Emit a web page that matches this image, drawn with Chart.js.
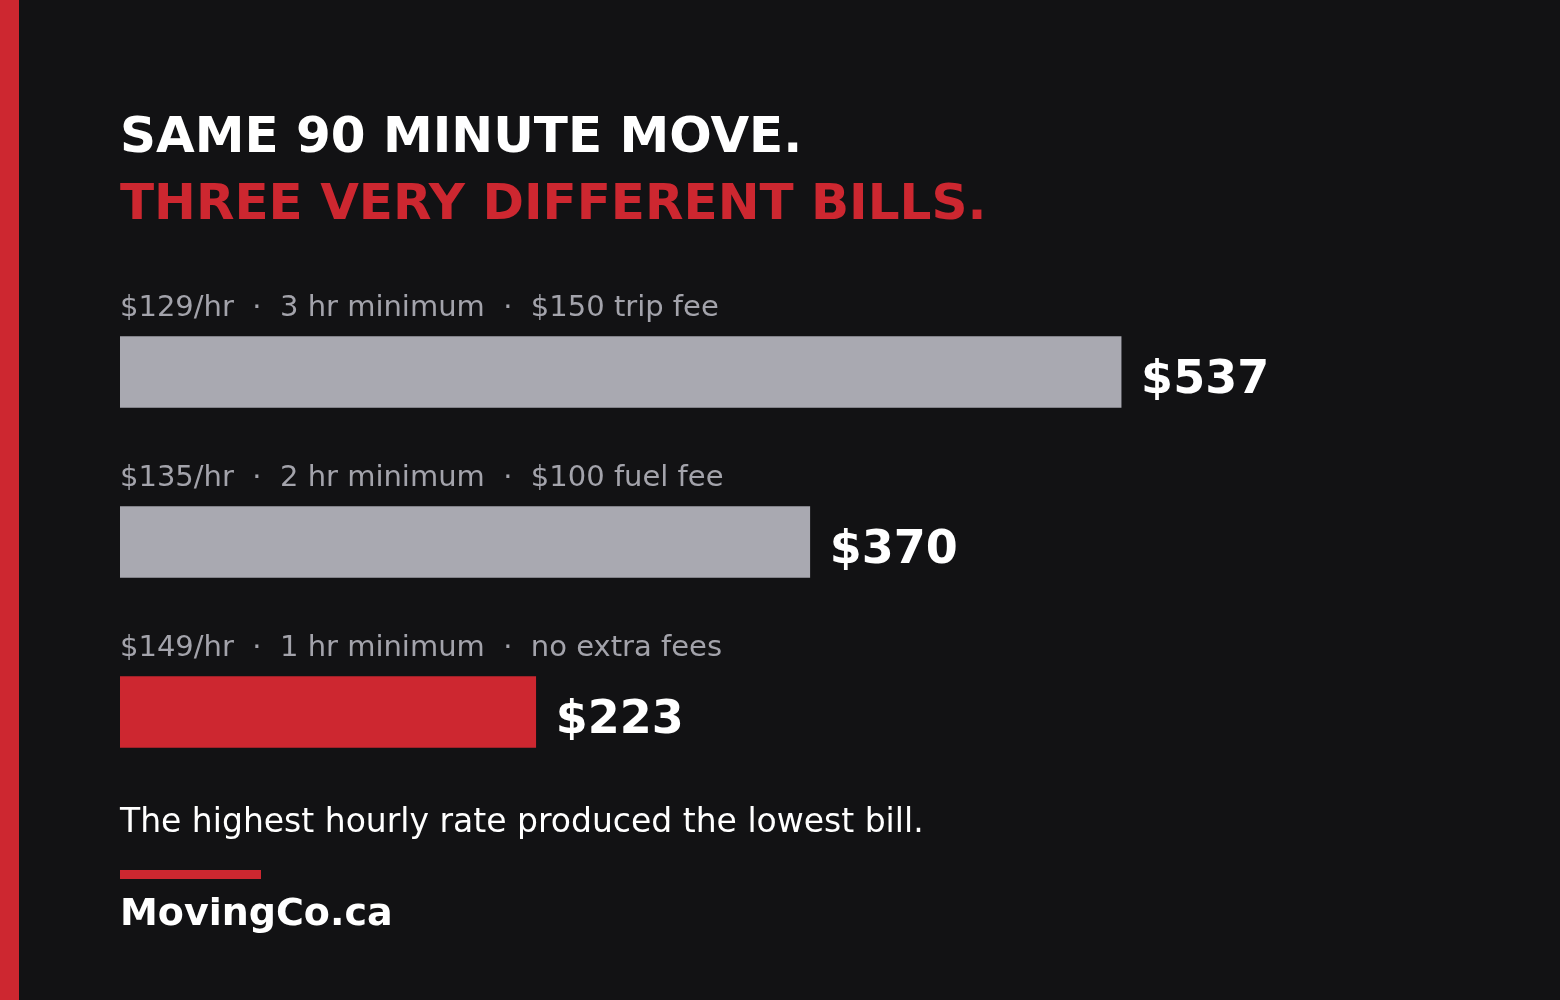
<!DOCTYPE html>
<html>
<head>
<meta charset="utf-8">
<script src="https://cdn.jsdelivr.net/npm/chart.js@4.4.1/dist/chart.umd.min.js"></script>
<style>
  html, body { margin:0; padding:0; background:#121214; width:1560px; height:1000px; overflow:hidden; }
  body { position:relative; font-family:"DejaVu Sans", sans-serif; }
  #stripe { position:absolute; left:0; top:0; width:19px; height:1000px; background:#cd2730; }
  #c { position:absolute; left:0; top:0; }
  .t { position:absolute; left:120px; line-height:1; white-space:nowrap; margin:0; }
  #t1 { top:110px; font-size:50px; font-weight:bold; color:#ffffff; }
  #t2 { top:176.5px; font-size:50px; font-weight:bold; color:#cd2730; }
  #note { top:803.5px; font-size:33px; color:#ffffff; }
  #rule { position:absolute; left:120px; top:870px; width:141px; height:9px; background:#cd2730; }
  #brand { top:893px; font-size:38px; font-weight:bold; color:#ffffff; }
</style>
</head>
<body>
<div id="stripe"></div>
<canvas id="c" width="1560" height="1000"></canvas>
<div class="t" id="t1">SAME 90 MINUTE MOVE.</div>
<div class="t" id="t2">THREE VERY DIFFERENT BILLS.</div>
<div class="t" id="note">The highest hourly rate produced the lowest bill.</div>
<div id="rule"></div>
<div class="t" id="brand">MovingCo.ca</div>
<script>
const categories = [
  "$129/hr  \u00b7  3 hr minimum  \u00b7  $150 trip fee",
  "$135/hr  \u00b7  2 hr minimum  \u00b7  $100 fuel fee",
  "$149/hr  \u00b7  1 hr minimum  \u00b7  no extra fees"
];
const totals = [537, 370, 223];
const valueLabels = ["$537", "$370", "$223"];
const barColors = ["#a9a9b1", "#a9a9b1", "#cd2730"];

const labelPlugin = {
  id: 'barLabels',
  afterDatasetsDraw(chart) {
    const ctx = chart.ctx;
    const meta = chart.getDatasetMeta(0);
    ctx.save();
    meta.data.forEach((bar, i) => {
      ctx.textAlign = 'left';
      ctx.textBaseline = 'alphabetic';
      ctx.fillStyle = '#a3a3ab';
      ctx.font = '29px "DejaVu Sans"';
      ctx.fillText(categories[i], chart.chartArea.left, bar.y - 56.5);
      ctx.fillStyle = '#ffffff';
      ctx.font = 'bold 46px "DejaVu Sans"';
      ctx.fillText(valueLabels[i], bar.x + 20, bar.y + 21);
    });
    ctx.restore();
  }
};

new Chart(document.getElementById('c'), {
  type: 'bar',
  data: {
    labels: categories,
    datasets: [{
      data: totals,
      backgroundColor: barColors,
      borderWidth: 0,
      barThickness: 71
    }]
  },
  options: {
    indexAxis: 'y',
    responsive: false,
    animation: false,
    layout: { padding: { left: 120, right: 135, top: 287, bottom: 203 } },
    scales: {
      x: { min: 0, max: 700, display: false },
      y: { display: false }
    },
    plugins: { legend: { display: false }, tooltip: { enabled: false } }
  },
  plugins: [labelPlugin]
});
</script>
</body>
</html>
